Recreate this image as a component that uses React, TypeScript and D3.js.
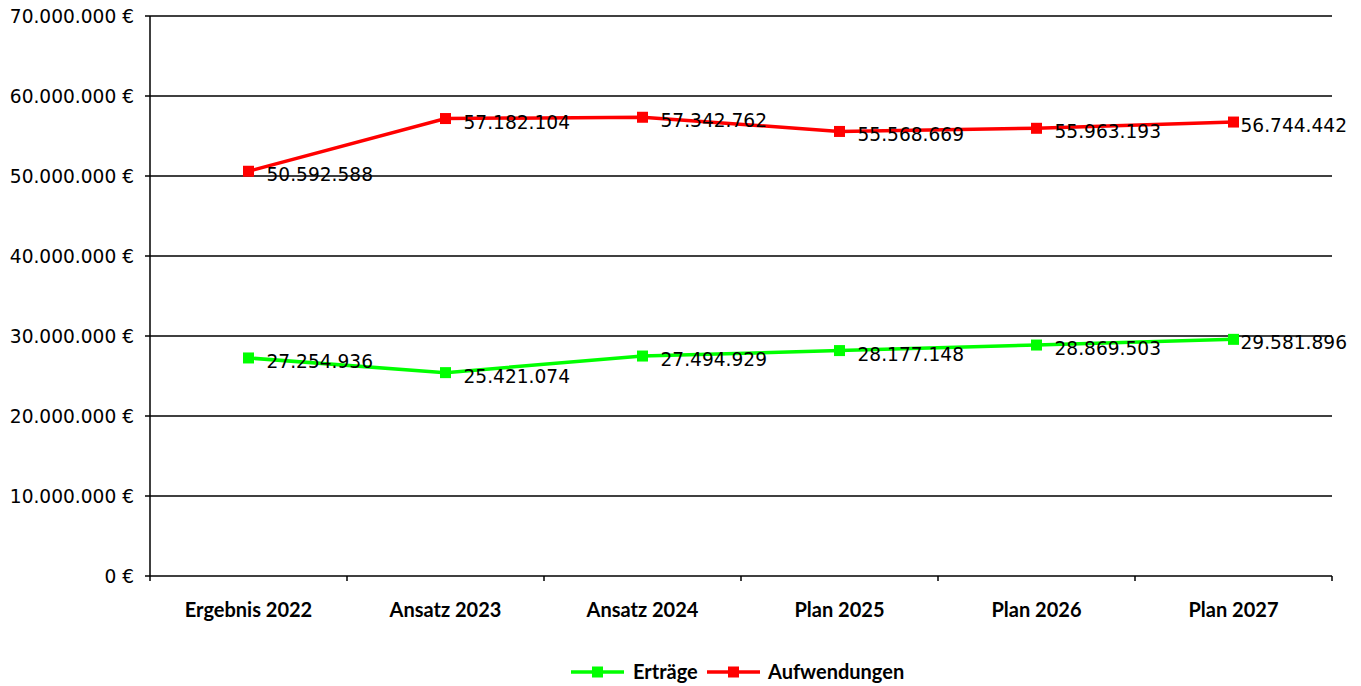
import React from "react";
import * as d3 from "d3";

const categories = ["Ergebnis 2022", "Ansatz 2023", "Ansatz 2024", "Plan 2025", "Plan 2026", "Plan 2027"];
const ertraege = [27254936, 25421074, 27494929, 28177148, 28869503, 29581896];
const aufwendungen = [50592588, 57182104, 57342762, 55568669, 55963193, 56744442];
const yTicks = [0, 10000000, 20000000, 30000000, 40000000, 50000000, 60000000, 70000000];

const series = [
  { name: "Erträge", values: ertraege, color: "#00ff00" },
  { name: "Aufwendungen", values: aufwendungen, color: "#ff0000" },
];

const W = 1361;
const H = 686;
const left = 150;
const right = 1332;
const top = 16;
const bottom = 576;

const fmt = (v: number) => d3.format(",")(v).replace(/,/g, ".");

export default function App() {
  const x = d3.scaleBand<string>().domain(categories).range([left, right]).padding(0);
  const y = d3.scaleLinear().domain([0, 70000000]).range([bottom, top]);
  const cx = (c: string) => (x(c) as number) + x.bandwidth() / 2;
  const line = d3
    .line<number>()
    .x((_, i) => cx(categories[i]))
    .y((d) => y(d));

  const legendItems = [
    { ...series[0], lx: 571, tx: 633 },
    { ...series[1], lx: 707, tx: 768 },
  ];

  // labels of the last category sit closer to the marker to stay inside the plot
  const labelOffset = (i: number) => (i === categories.length - 1 ? 7 : 18);

  return (
    <svg
      width={W}
      height={H}
      style={{ position: "absolute", left: 0, top: 0, background: "#fff" }}
    >
      {/* horizontal gridlines and y ticks */}
      {yTicks.map((t) => (
        <g key={t}>
          <line x1={145} x2={right} y1={y(t)} y2={y(t)} stroke="#000" strokeWidth={1.5} />
          <text
            x={134}
            y={y(t)}
            dy="0.36em"
            textAnchor="end"
            fontFamily="DejaVu Sans"
            fontSize={18.6}
            fill="#000"
          >
            {fmt(t) + " €"}
          </text>
        </g>
      ))}
      {/* axes */}
      <line x1={left} x2={left} y1={top} y2={bottom} stroke="#000" strokeWidth={1.5} />
      {categories.map((c, i) => (
        <line
          key={"tk" + i}
          x1={x(c) as number}
          x2={x(c) as number}
          y1={bottom}
          y2={bottom + 5}
          stroke="#000"
          strokeWidth={1.5}
        />
      ))}
      <line x1={right} x2={right} y1={bottom} y2={bottom + 5} stroke="#000" strokeWidth={1.5} />
      {categories.map((c) => (
        <text
          key={"cl" + c}
          x={cx(c)}
          y={617}
          textAnchor="middle"
          fontFamily="Lato"
          fontWeight="bold"
          fontSize={20}
          fill="#000"
        >
          {c}
        </text>
      ))}

      {/* series */}
      {series.map((s) => (
        <g key={s.name}>
          <path d={line(s.values) || ""} fill="none" stroke={s.color} strokeWidth={3.5} />
          {s.values.map((v, i) => (
            <rect
              key={i}
              x={cx(categories[i]) - 5.5}
              y={y(v) - 5.5}
              width={11}
              height={11}
              fill={s.color}
            />
          ))}
          {s.values.map((v, i) => (
            <text
              key={"l" + i}
              x={cx(categories[i]) + labelOffset(i)}
              y={y(v) + 10}
              fontFamily="DejaVu Sans"
              fontSize={18.6}
              fill="#000"
            >
              {fmt(v)}
            </text>
          ))}
        </g>
      ))}

      {/* legend */}
      {legendItems.map((l) => (
        <g key={"lg" + l.name}>
          <line x1={l.lx} x2={l.lx + 53} y1={672} y2={672} stroke={l.color} strokeWidth={3.5} />
          <rect x={l.lx + 21} y={666.5} width={11} height={11} fill={l.color} />
          <text
            x={l.tx}
            y={679}
            fontFamily="Lato"
            fontWeight="bold"
            fontSize={20}
            fill="#000"
          >
            {l.name}
          </text>
        </g>
      ))}
    </svg>
  );
}
